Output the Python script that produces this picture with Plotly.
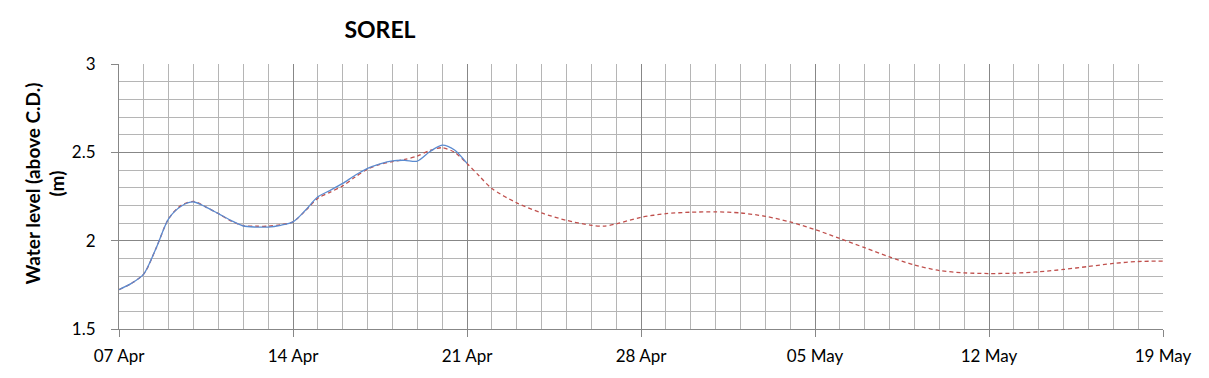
import plotly.graph_objects as go
import pandas as pd

start_date = "2024-04-07"

# Observed water level (days since 07 Apr, metres above C.D.)
obs_days = [0, 0.5, 1, 1.5, 2, 2.5, 3, 3.5, 4, 4.5, 5, 5.5, 6, 6.5, 7, 7.5, 8, 8.5,
            9, 9.5, 10, 10.5, 11, 11.5, 12, 12.5, 13, 13.5, 14]
obs_level = [1.723, 1.758, 1.812, 1.96, 2.125, 2.195, 2.219, 2.19, 2.153, 2.115, 2.083,
             2.077, 2.077, 2.087, 2.106, 2.172, 2.248, 2.285, 2.324, 2.37, 2.409, 2.435,
             2.452, 2.455, 2.45, 2.503, 2.541, 2.513, 2.437]

# Forecast water level
fc_days = [0, 0.5, 1, 1.5, 2, 2.5, 3, 3.5, 4, 4.5, 5, 5.5, 6, 6.5, 7, 7.5, 8, 8.5,
           9, 9.5, 10, 10.5, 11, 11.5, 12, 12.5, 13, 13.5, 14, 14.5, 15, 16, 17, 18,
           19, 19.5, 20, 21, 22, 23, 24, 25, 26, 27, 28, 29, 30, 31, 32, 33, 34, 35,
           36, 37, 38, 39, 40, 41, 42]
fc_level = [1.723, 1.758, 1.812, 1.96, 2.125, 2.2, 2.222, 2.19, 2.153, 2.112, 2.085,
            2.082, 2.082, 2.09, 2.106, 2.17, 2.24, 2.275, 2.31, 2.36, 2.405, 2.432,
            2.447, 2.46, 2.479, 2.51, 2.526, 2.50, 2.437, 2.365, 2.295, 2.214, 2.157,
            2.115, 2.087, 2.082, 2.095, 2.132, 2.153, 2.161, 2.163, 2.157, 2.138,
            2.106, 2.063, 2.012, 1.960, 1.908, 1.862, 1.831, 1.818, 1.814, 1.816,
            1.824, 1.837, 1.854, 1.871, 1.882, 1.884]

t0 = pd.Timestamp(start_date)
obs_x = [t0 + pd.Timedelta(days=d) for d in obs_days]
fc_x = [t0 + pd.Timedelta(days=d) for d in fc_days]

FONT = "Lato"
# page body has an 8px default margin, so the figure is sized to fit inside it
W, H = 1193, 362

fig = go.Figure()
fig.add_trace(go.Scatter(x=fc_x, y=fc_level, mode="lines",
                         line=dict(color="#C0504D", width=1.3, dash="4px,3px",
                                   shape="spline", smoothing=0.8),
                         name="Forecast", showlegend=False))
fig.add_trace(go.Scatter(x=obs_x, y=obs_level, mode="lines",
                         line=dict(color="#5B8BD0", width=1.3,
                                   shape="spline", smoothing=0.8),
                         name="Observed", showlegend=False))

fig.update_layout(
    width=W, height=H,
    margin=dict(l=111, r=38, t=56, b=41),
    paper_bgcolor="white", plot_bgcolor="white",
    font=dict(family=FONT, size=17, color="#000000"),
    title=dict(text="<b>SOREL</b>", x=372 / W, xanchor="center",
               xref="container", y=1 - 22 / H, yref="container", yanchor="middle",
               font=dict(family=FONT, size=23, color="#000000")),
    xaxis=dict(
        type="date",
        range=[t0, t0 + pd.Timedelta(days=42)],
        tick0=t0, dtick=7 * 86400000, tickformat="%d %b",
        showgrid=True, gridcolor="#878787", gridwidth=1,
        showline=True, linecolor="#878787", linewidth=1, mirror=False,
        ticks="outside", ticklen=7, tickcolor="#878787",
        minor=dict(dtick=86400000, tick0=t0, showgrid=True, gridcolor="#B5B5B5",
                   gridwidth=1, ticks=""),
        zeroline=False, fixedrange=True, automargin=False,
        tickfont=dict(family=FONT, size=17),
        ticklabelstandoff=5,
    ),
    yaxis=dict(
        range=[1.5, 3], dtick=0.5, tick0=1.5,
        showgrid=True, gridcolor="#878787", gridwidth=1,
        showline=True, linecolor="#878787", linewidth=1,
        ticks="outside", ticklen=7, tickcolor="#878787",
        minor=dict(dtick=0.1, showgrid=True, gridcolor="#B5B5B5", gridwidth=1, ticks=""),
        zeroline=False, fixedrange=True, automargin=False,
        tickfont=dict(family=FONT, size=17),
        ticklabelstandoff=12,
    ),
    annotations=[dict(
        text="<b>Water level (above C.D.)<br>(m)</b>",
        xref="paper", yref="paper", x=0, y=0.5, xanchor="center", yanchor="middle",
        xshift=-75, yshift=13, textangle=-90, showarrow=False,
        font=dict(family=FONT, size=19, color="#000000"),
    )],
)

fig.write_html("out.html")
